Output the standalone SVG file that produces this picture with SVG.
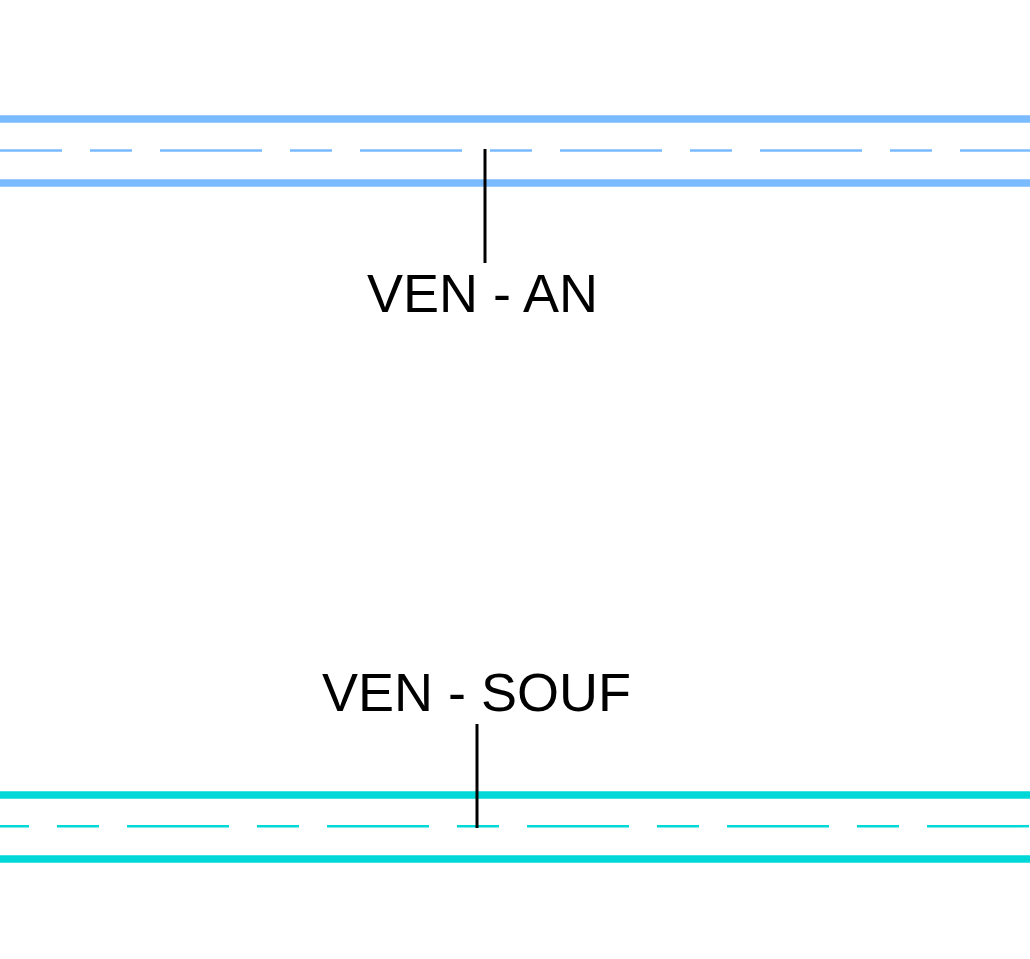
<svg xmlns="http://www.w3.org/2000/svg" width="1030" height="959" viewBox="0 0 1030 959">
<style>
.an{stroke:#7abbff;fill:none}
.souf{stroke:#00d8d8;fill:none}
.wall{stroke-width:7.5}
.axis{stroke-width:2.5;stroke-dasharray:102 28 42 28}
.leader{stroke:#000;stroke-width:3;fill:none}
.lbl{font-family:"Liberation Sans",Arial,sans-serif;font-size:54px;fill:#000}
</style>
<rect width="1030" height="959" fill="#fff"/>
<g id="duct-an">
<line class="an wall" x1="0" y1="119" x2="1030" y2="119"/>
<line class="an axis" x1="0" y1="150.5" x2="1030" y2="150.5" stroke-dashoffset="40"/>
<line class="an wall" x1="0" y1="183" x2="1030" y2="183"/>
</g>
<g id="duct-souf">
<line class="souf wall" x1="0" y1="795" x2="1030" y2="795"/>
<line class="souf axis" x1="0" y1="826.2" x2="1030" y2="826.2" stroke-dashoffset="73"/>
<line class="souf wall" x1="0" y1="859" x2="1030" y2="859"/>
</g>
<g id="connectors">
<line class="leader" x1="485" y1="149" x2="485" y2="263"/>
<line class="leader" x1="477" y1="724" x2="477" y2="828"/>
</g>
<g id="label-an"><text class="lbl" x="367" y="311.7">VEN - AN</text></g>
<g id="label-souf"><text class="lbl" x="322" y="710.7">VEN - SOUF</text></g>
</svg>
